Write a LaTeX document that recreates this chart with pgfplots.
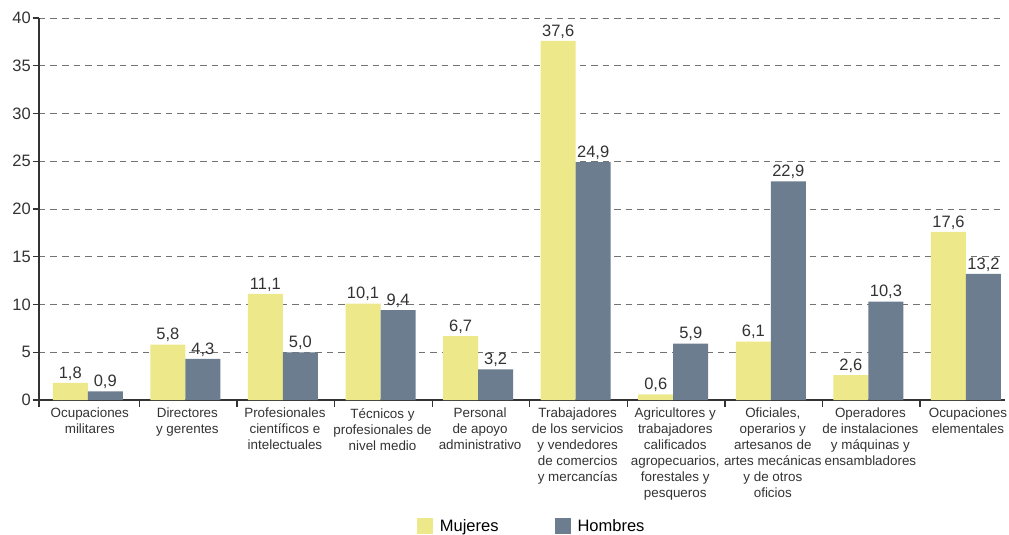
\documentclass[border=0pt]{standalone}
\usepackage{fontspec}
\setmainfont{Liberation Sans}
\usepackage{pgfplots}
\pgfplotsset{compat=1.18}
\definecolor{muj}{HTML}{EDE88A}
\definecolor{hom}{HTML}{6B7D8E}
\definecolor{axc}{HTML}{333333}
\begin{document}
\begin{tikzpicture}
\begin{axis}[
  name=ax,
  scale only axis, width=966pt, height=382pt,
  xmin=-0.5, xmax=9.4, ymin=0, ymax=40,
  axis x line=bottom, axis y line=left,
  axis line style={-, draw=axc, line width=1.3pt},
  ytick={0,5,...,40},
  ymajorgrids, grid style={dash pattern=on 6.5pt off 5pt, draw=black!55, line width=1pt},
  tick align=outside,
  ytick style={draw=axc, line width=1.3pt},
  major tick length=6pt,
  xtick={0,...,9},
  xtick style={draw=none},
  extra x ticks={-0.5,0.53,1.53,2.53,3.53,4.53,5.53,6.53,7.53,8.53},
  extra x tick labels={},
  extra x tick style={xtick style={draw=axc, line width=1.3pt}, major tick length=7pt},
  xticklabels={{Ocupaciones\\militares},{Directores\\y gerentes},{Profesionales\\científicos e\\intelectuales},{Técnicos y\\profesionales de\\nivel medio},{Personal\\de apoyo\\administrativo},{Trabajadores\\de los servicios\\y vendedores\\de comercios\\y mercancías},{Agricultores y\\trabajadores\\calificados\\agropecuarios,\\forestales y\\pesqueros},{Oficiales,\\operarios y\\artesanos de\\artes mecánicas\\y de otros\\oficios},{Operadores\\de instalaciones\\y máquinas y\\ensambladores},{Ocupaciones\\elementales}},
  xticklabel style={align=center, font=\fontsize{13.4}{16}\selectfont, color=axc, inner sep=1pt, yshift=-1pt, xshift=2pt},
  yticklabel style={font=\fontsize{16.5}{18}\selectfont, color=axc, inner sep=1pt, xshift=-1pt},
  /pgf/number format/assume math mode=true,
  ybar=0pt, bar width=35pt,
  nodes near coords,
  nodes near coords style={font=\fontsize{16.5}{18}\selectfont, color=axc, anchor=south, inner sep=2.5pt,
    /pgf/number format/.cd, fixed, fixed zerofill, precision=1, use comma, assume math mode=true},
  legend style={at={(0.51,-0.33)}, anchor=center, draw=none, fill=none, inner sep=0pt,
    legend columns=2, font=\fontsize{16.5}{18}\selectfont,
    /tikz/every odd column/.append style={column sep=5pt},
    /tikz/every even column/.append style={column sep=54pt}},
  legend image code/.code={\fill[#1] (0pt,-8pt) rectangle (16pt,8pt);},
]
\addplot[fill=muj, draw=none] coordinates {(0,1.8) (1,5.8) (2,11.1) (3,10.1) (4,6.7) (5,37.6) (6,0.6) (7,6.1) (8,2.6) (9,17.6)};
\addplot[fill=hom, draw=none] coordinates {(0,0.9) (1,4.3) (2,5.0) (3,9.4) (4,3.2) (5,24.9) (6,5.9) (7,22.9) (8,10.3) (9,13.2)};
\legend{Mujeres, Hombres}
\end{axis}
\path (ax.south west) ++(-39pt,-134pt) rectangle ++(1009pt,534pt);
\end{tikzpicture}
\end{document}
